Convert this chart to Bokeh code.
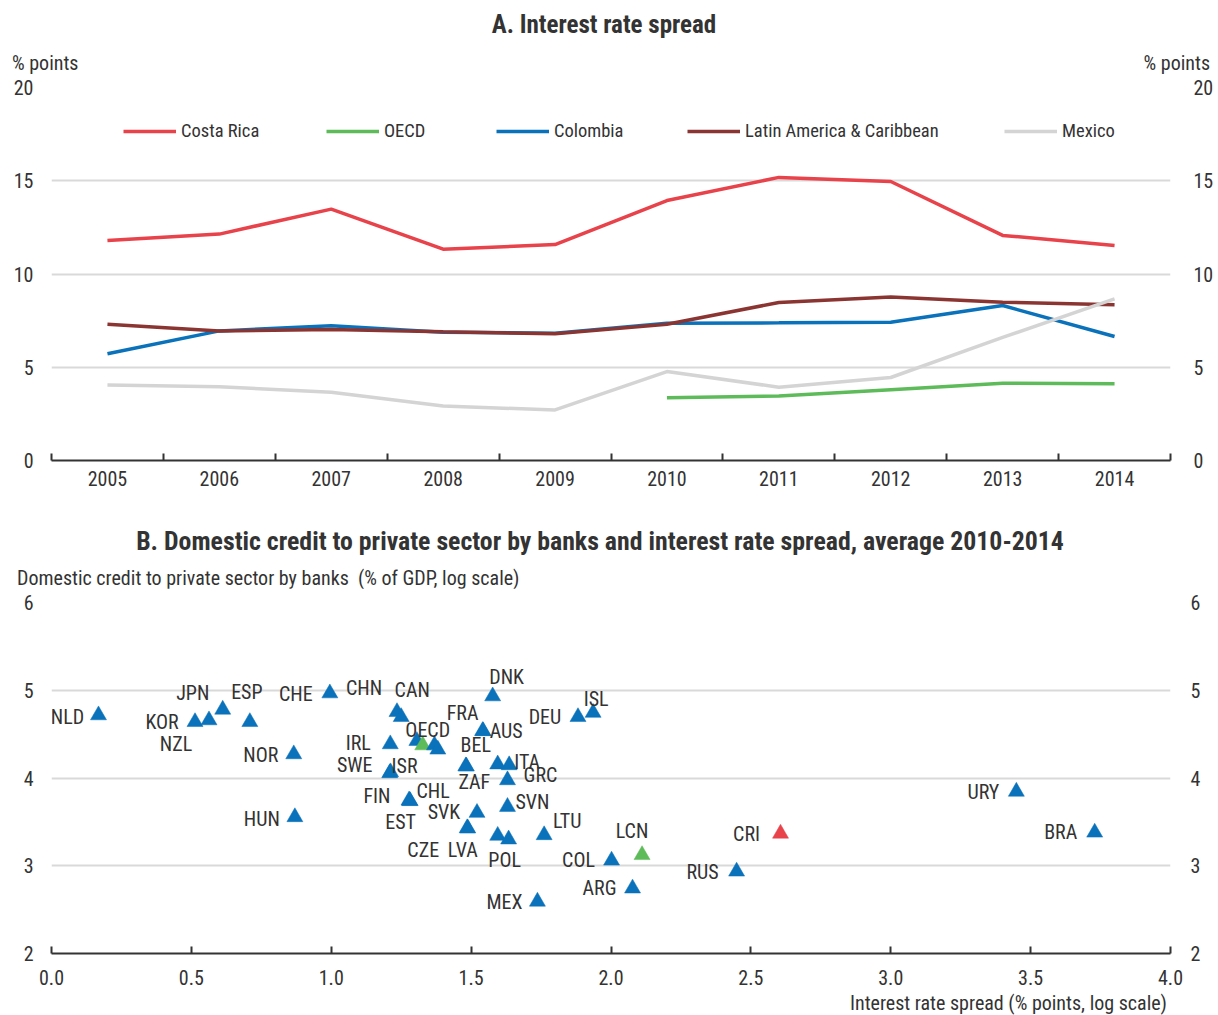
from bokeh.plotting import figure
from bokeh.models import (Range1d, LinearAxis, FixedTicker, Legend, LegendItem,
                          LabelSet, ColumnDataSource, NumeralTickFormatter, Div)
from bokeh.layouts import column
from bokeh.embed import file_html
from bokeh.resources import INLINE
from bokeh.core.properties import value

# ---------------- data: panel A ----------------
years = [2005, 2006, 2007, 2008, 2009, 2010, 2011, 2012, 2013, 2014]
costa_rica = [11.80, 12.14, 13.48, 11.33, 11.58, 13.94, 15.18, 14.96, 12.07, 11.53]
oecd_years = [2010, 2011, 2012, 2013, 2014]
oecd = [3.37, 3.46, 3.80, 4.14, 4.12]
colombia = [5.72, 6.95, 7.22, 6.88, 6.82, 7.36, 7.38, 7.41, 8.31, 6.65]
lac = [7.31, 6.95, 7.02, 6.90, 6.80, 7.31, 8.47, 8.77, 8.49, 8.35]
mexico = [4.05, 3.96, 3.66, 2.92, 2.71, 4.77, 3.93, 4.45, 6.60, 8.67]
y_ticks_a = [0, 5, 10, 15, 20]

# ---------------- data: panel B ----------------
codes = ["NLD", "KOR", "NZL", "JPN", "ESP", "CHE", "NOR", "HUN", "CHN", "CAN",
         "IRL", "", "OECD", "", "", "SWE", "ISR", "FIN", "CHL", "EST",
         "DNK", "FRA", "AUS", "DEU", "ISL", "BEL", "ZAF", "", "ITA", "GRC",
         "SVN", "SVK", "LVA", "CZE", "", "POL", "LTU", "COL", "LCN", "ARG",
         "MEX", "RUS", "CRI", "URY", "BRA"]
spread = [0.168, 0.513, 0.563, 0.612, 0.709, 0.995, 0.866, 0.870, 1.235, 1.250,
          1.211, 1.306, 1.327, 1.369, 1.381, 1.209, 1.212, 1.278, 1.282, 1.280,
          1.577, 1.541, 1.543, 1.882, 1.936, 1.481, 1.483, 1.595, 1.636, 1.630,
          1.630, 1.521, 1.488, 1.486, 1.595, 1.634, 1.761, 2.002, 2.111, 2.077,
          1.737, 2.449, 2.606, 3.449, 3.729]
credit = [4.716, 4.639, 4.659, 4.780, 4.639, 4.966, 4.272, 3.555, 4.753, 4.696,
          4.386, 4.423, 4.374, 4.374, 4.325, 4.056, 4.067, 3.745, 3.738, 3.741,
          4.932, 4.537, 4.535, 4.696, 4.744, 4.135, 4.133, 4.156, 4.147, 3.976,
          3.672, 3.604, 3.427, 3.429, 3.343, 3.301, 3.350, 3.060, 3.123, 2.742,
          2.592, 2.935, 3.367, 3.845, 3.379]
x_ticks_b = [0, 0.5, 1.0, 1.5, 2.0, 2.5, 3.0, 3.5, 4.0]
y_ticks_b = [2, 3, 4, 5, 6]

# ---------------- styles ----------------
FONT = "'Roboto Condensed', 'DejaVu Sans Condensed', 'Liberation Sans Narrow', Roboto, sans-serif"
TXT = "#333333"
GRID = "#d9d9d9"
RED = "#E8424A"
GREEN = "#5DBB5A"
BLUE = "#0A72BA"
DARKRED = "#8B3532"
GREY = "#D4D4D4"
TICK_FS = "20px"
LEG_FS = "18.5px"
TITLE_A_FS = "25px"
TITLE_B_FS = "25.8px"
W = 1218

# label offsets (screen px: dx right, dy up)
label_off = {
    "NLD": (-31, -2), "KOR": (-33, 0), "NZL": (-33, -24), "JPN": (-30, 17),
    "ESP": (-3, 30), "CHE": (-34, -1), "NOR": (-33, -1), "HUN": (-33, -2),
    "CHN": (-33, 24), "CAN": (11, 27), "IRL": (-32, 1), "OECD": (5, 15),
    "SWE": (-35, 8), "ISR": (14, 6), "FIN": (-32, 4), "CHL": (23, 10),
    "EST": (-9, -21), "DNK": (14, 19), "FRA": (-20, 18), "AUS": (23, 0),
    "DEU": (-33, 0), "ISL": (3, 14), "BEL": (10, 21), "ZAF": (8, -16),
    "ITA": (18, 3), "GRC": (33, 5), "SVN": (25, 5), "SVK": (-33, 1),
    "LVA": (-5, -22), "CZE": (-44, -22), "POL": (-4, -21), "LTU": (23, 14),
    "COL": (-33, 0), "LCN": (-10, 24), "ARG": (-33, 0), "MEX": (-33, 0),
    "RUS": (-34, -1), "CRI": (-34, 0), "URY": (-33, 0), "BRA": (-34, 0),
}
special_color = {"OECD": GREEN, "LCN": GREEN, "CRI": RED}
# legend glyph start (px from frame left), one legend per entry
legend_x = [72, 275, 445, 636, 953]


def text_div(inner, height, size, weight="normal", align="left", pad="0", line_h=None, top=0,
             flex=False):
    lh = line_h or height
    disp = "display:flex;justify-content:space-between;" if flex else ""
    html = (f'<div style="{disp}box-sizing:border-box;width:{W}px;font-family:{FONT};'
            f'font-size:{size};font-weight:{weight};color:{TXT};text-align:{align};'
            f'padding:{pad};margin-top:{top}px;line-height:{lh}px;height:{lh}px;'
            f'white-space:nowrap;">{inner}</div>')
    return Div(text=html, width=W, height=height, margin=0)


def style_common(p):
    p.outline_line_color = None
    p.xgrid.visible = False
    p.ygrid.grid_line_color = GRID
    p.ygrid.grid_line_width = 2
    for ax in p.xaxis + p.yaxis:
        ax.major_label_text_font = FONT
        ax.major_label_text_font_size = TICK_FS
        ax.major_label_text_color = TXT


def style_yaxes(p, ticks, left_standoff, right_standoff):
    for ax in p.yaxis:
        ax.ticker = FixedTicker(ticks=ticks)
        ax.axis_line_color = None
        ax.major_tick_line_color = None
        ax.minor_tick_line_color = None
        ax.major_tick_out = 0
        ax.major_tick_in = 0
        ax.minor_tick_out = 0
        ax.minor_tick_in = 0
    p.yaxis[0].major_label_standoff = left_standoff
    p.yaxis[1].major_label_standoff = right_standoff


# ---------------- panel A ----------------
title_a = text_div("A. Interest rate spread", 44, TITLE_A_FS, weight="bold", align="center",
                   pad="0 10px 0 0", line_h=38, top=6)
units_a = text_div("<span>% points</span><span>% points</span>", 30, TICK_FS,
                   pad="0 8px 0 12px", line_h=30, top=4, flex=True)

p1 = figure(width=W, height=426, x_range=Range1d(2004.5, 2014.5), y_range=Range1d(0, 20),
            output_backend="svg", toolbar_location=None,
            min_border_left=50, min_border_right=48, min_border_top=13, min_border_bottom=40)
p1.add_layout(LinearAxis(), "right")

r_cr = p1.line(years, costa_rica, line_color=RED, line_width=3.5)
r_oecd = p1.line(oecd_years, oecd, line_color=GREEN, line_width=3.5)
r_col = p1.line(years, colombia, line_color=BLUE, line_width=3.5)
r_lac = p1.line(years, lac, line_color=DARKRED, line_width=3.5)
r_mex = p1.line(years, mexico, line_color=GREY, line_width=3.5)

p1.xaxis.ticker = FixedTicker(ticks=years, minor_ticks=[y - 0.5 for y in years] + [years[-1] + 0.5])
p1.xaxis.formatter = NumeralTickFormatter(format="0")
p1.xaxis.major_tick_in = 0
p1.xaxis.major_tick_out = 0
p1.xaxis.minor_tick_in = 7
p1.xaxis.minor_tick_out = 0
p1.xaxis.minor_tick_line_color = TXT
p1.xaxis.minor_tick_line_width = 2
p1.xaxis.axis_line_color = TXT
p1.xaxis.axis_line_width = 2
p1.xaxis.major_label_standoff = 10
style_yaxes(p1, y_ticks_a, 18, 23)
style_common(p1)

names = ["Costa Rica", "OECD", "Colombia", "Latin America & Caribbean", "Mexico"]
rends = [r_cr, r_oecd, r_col, r_lac, r_mex]
for nm, rr, lx in zip(names, rends, legend_x):
    lg = Legend(items=[LegendItem(label=nm, renderers=[rr])],
                orientation="horizontal", location=(lx, 318),
                glyph_width=53, glyph_height=20, label_standoff=5, padding=0, margin=0,
                border_line_color=None, background_fill_alpha=0, label_height=20,
                label_text_font=FONT, label_text_font_size=LEG_FS, label_text_color=TXT)
    p1.add_layout(lg)

# ---------------- panel B ----------------
title_b = text_div("B. Domestic credit to private sector by banks and interest rate spread, average 2010-2014",
                   60, TITLE_B_FS, weight="bold", align="center", pad="0 18px 0 0", line_h=38, top=22)
ylab_b = text_div("Domestic credit to private sector by banks&nbsp;&nbsp;(% of GDP, log scale)", 28,
                  TICK_FS, pad="0 0 0 17px", line_h=28, top=4)

p2 = figure(width=W, height=404, x_range=Range1d(0, 4), y_range=Range1d(2, 6),
            output_backend="svg", toolbar_location=None,
            min_border_left=51, min_border_right=45, min_border_top=14, min_border_bottom=39)
p2.add_layout(LinearAxis(), "right")

colors = [special_color.get(c, BLUE) for c in codes]
dxs = [label_off.get(c, (0, 0))[0] for c in codes]
dys = [label_off.get(c, (0, 0))[1] for c in codes]
src = ColumnDataSource(dict(x=spread, y=credit, code=codes, color=colors, dx=dxs, dy=dys))
p2.scatter("x", "y", source=src, marker="triangle", size=16, fill_color="color",
           line_color="color", line_width=0.5)
p2.add_layout(LabelSet(x="x", y="y", text="code", source=src, x_offset="dx", y_offset="dy",
                       text_align="center", text_baseline="middle",
                       text_font=value(FONT), text_font_size=value(TICK_FS), text_color=TXT))

p2.xaxis.ticker = FixedTicker(ticks=x_ticks_b)
p2.xaxis.formatter = NumeralTickFormatter(format="0.0")
p2.xaxis.major_tick_in = 7
p2.xaxis.major_tick_out = 0
p2.xaxis.minor_tick_line_color = None
p2.xaxis.major_tick_line_color = TXT
p2.xaxis.major_tick_line_width = 2
p2.xaxis.axis_line_color = TXT
p2.xaxis.axis_line_width = 2
p2.xaxis.major_label_standoff = 16
style_yaxes(p2, y_ticks_b, 18, 20)
style_common(p2)

xlab_b = text_div("Interest rate spread (% points, log scale)", 23, TICK_FS, align="right",
                  pad="0 51px 0 0", line_h=23)

layout = column(title_a, units_a, p1, title_b, ylab_b, p2, xlab_b, spacing=0)
open("out.html", "w").write(file_html(layout, INLINE))
